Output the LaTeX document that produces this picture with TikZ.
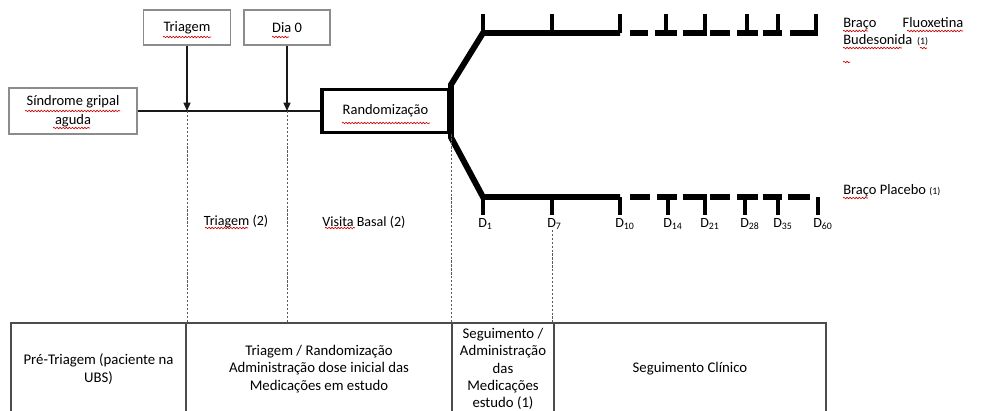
\documentclass[tikz,border=0pt]{standalone}
\usepackage{fontspec}
\setmainfont{Carlito}
\usetikzlibrary{arrows.meta,decorations.pathmorphing}

\tikzset{
  box/.style={draw=black!45, line width=0.8pt, inner sep=0pt, align=center,
    font=\fontsize{10.3}{13.5}\selectfont},
  randbox/.style={draw=black, line width=2.8pt, inner sep=0pt,
    font=\fontsize{10.3}{13.5}\selectfont},
  mainline/.style={black!90, line width=0.9pt},
  arrowline/.style={black!90, line width=0.9pt, -{Triangle[length=6pt,width=5pt]}},
  arm/.style={black, line width=4.2pt},
  tick/.style={black, line width=2.8pt},
  guide/.style={black!65, line width=0.7pt, dash pattern=on 1.6pt off 1.2pt},
  phasetext/.style={inner sep=0pt, font=\fontsize{10}{12}\selectfont},
  dlabel/.style={inner sep=0pt, anchor=west, font=\fontsize{10}{12}\selectfont},
  armtext/.style={inner sep=0pt, align=left, font=\fontsize{10.3}{12}\selectfont},
  cell/.style={draw=black!70, line width=0.8pt, inner sep=0pt, align=center,
    minimum height=2.3cm, font=\fontsize{10.5}{12.3}\selectfont},
  spell/.style={red!80!black, line width=0.45pt, decorate,
    decoration={snake, amplitude=0.55pt, segment length=2.2pt}}
}

\begin{document}
\begin{tikzpicture}[x=0.025cm, y=-0.025cm]
  \useasboundingbox (0,0) rectangle (998,410);

  % boxes of the first visit
  \node[box, minimum width=3.2cm, minimum height=1.15cm] (sind) at (73,111) {Síndrome gripal\\aguda};
  \node[box, minimum width=2.175cm, minimum height=0.875cm] (triag) at (187,27.5) {Triagem};
  \node[box, minimum width=2.15cm, minimum height=0.875cm] (dia) at (287,27.5) {Dia 0};
  \node[randbox, minimum width=3.175cm, minimum height=1.075cm] (rand) at (385.5,111) {Randomização};

  % time line and arrows
  \draw[mainline] (sind.east) -- (rand.west);
  \coordinate (t1) at (triag.south |- sind.east);
  \coordinate (t2) at (dia.south |- sind.east);
  \draw[arrowline] (triag.south) -- (t1);
  \draw[arrowline] (dia.south) -- (t2);

  % the two arms
  \draw[arm] (rand.east) -- ([yshift=2pt]rand.north east) -- (483,33) -- (620,33);
  \draw[arm] (rand.east) -- ([yshift=-2pt]rand.south east) -- (483,197) -- (620,197);
  \foreach \a/\b in {630/648, 655/677, 683/707, 710/730, 737/758, 763/782, 790/818}
    \draw[arm] (\a,33) -- (\b,33);
  \foreach \a/\b in {630/650, 657/677, 683/707, 710/730, 737/758, 763/782, 788/810}
    \draw[arm] (\a,197) -- (\b,197);
  \foreach \x in {483, 552, 620, 666, 705, 747, 778, 816}
    \draw[tick] (\x,33) -- (\x,14);
  \foreach \x/\d in {483/1, 552/7, 620/10, 668/14, 705/21, 745/28, 778/35, 818/60} {
    \draw[tick] (\x,197) -- (\x,215);
    \coordinate (k\d) at (\x,215);
    \node[dlabel] (d\d) at (\x-5,224) {D\textsubscript{\d}};
  }

  % arm names
  \node[armtext, anchor=north west, text width=3cm] (armA) at (843,17)
    {Braço\hfill Fluoxetina\\Budesonida {\fontsize{7}{8}\selectfont(1)}};
  \node[armtext, anchor=west] (armB) at (843,191) {Braço Placebo {\fontsize{7}{8}\selectfont(1)}};

  % phases
  \node[phasetext] (ph1) at (236,222) {Triagem (2)};
  \node[phasetext] (ph2) at (364,222) {Visita Basal (2)};

  % table
  \node[cell, minimum width=4.375cm] (c1) at (98.5,369) {Pré-Triagem (paciente na\\UBS)};
  \node[cell, minimum width=6.65cm] (c2) at (319,369) {Triagem / Randomização\\Administração dose inicial das\\Medicações em estudo};
  \node[cell, minimum width=2.55cm] (c3) at (503,369) {Seguimento /\\Administração\\das\\Medicações\\estudo (1)};
  \node[cell, minimum width=6.8cm] (c4) at (690,369) {Seguimento Clínico};

  % dashed guides
  \draw[guide] (t1) -- (t1 |- c2.north);
  \draw[guide] (t2) -- (t2 |- c2.north);
  \draw[guide] (rand.south east) -- (rand.south east |- c3.north);
  \draw[guide] (d7.south -| k7) -- (k7 |- c3.north);

  % spell marks
  \draw[spell] (163,37) -- (211,37);
  \draw[spell] (272,37) -- (289,37);
  \draw[spell] (25,111) -- (120,111);
  \draw[spell] (53,128) -- (90,128);
  \draw[spell] (342,123) -- (430,123);
  \draw[spell] (205,228) -- (248,228);
  \draw[spell] (325,228) -- (355,228);
  \draw[spell] (843,31) -- (868,31);
  \draw[spell] (907,31) -- (963,31);
  \draw[spell] (843,48) -- (902,48);
  \draw[spell] (920,48) -- (927,48);
  \draw[spell] (843,62) -- (850,62);
  \draw[spell] (843,198) -- (868,198);
\end{tikzpicture}
\end{document}
